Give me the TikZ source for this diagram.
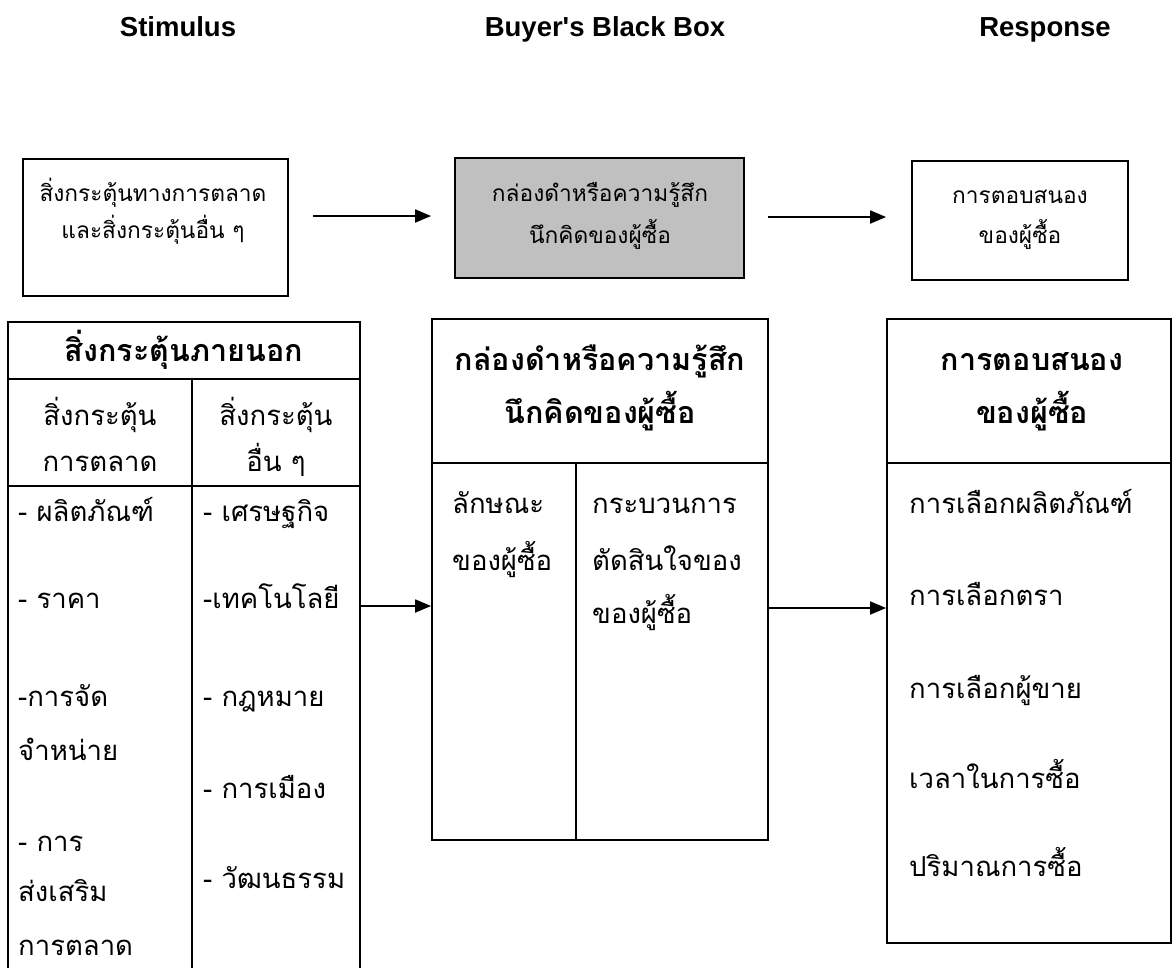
\documentclass[tikz,border=0pt]{standalone}
\usepackage{fontspec}
\setmainfont{Liberation Sans}
\newfontfamily\labfont{Liberation Sans}[Ligatures=TeXOff]
\newfontfamily\thai[Script=Thai]{Loma}
\usetikzlibrary{arrows.meta}
\begin{document}
\begin{tikzpicture}[x=1pt,y=-1pt,
  box/.style={draw, line width=1.8pt, inner sep=0pt},
  tline/.style={line width=1.8pt},
  arr/.style={line width=1.8pt, -{Triangle[length=16pt,width=13pt]}},
  hd/.style={font=\labfont\bfseries\fontsize{27.5}{33}\selectfont, anchor=base, inner sep=0pt},
  tb/.style={font=\thai\fontsize{22.7}{28}\selectfont, anchor=base, inner sep=0pt},
  tx/.style={font=\thai\fontsize{27.5}{32}\selectfont, anchor=base west, inner sep=0pt},
  txc/.style={font=\thai\fontsize{27.5}{32}\selectfont, anchor=base, inner sep=0pt},
  th/.style={font=\thai\bfseries\fontsize{30.5}{36}\selectfont, anchor=base, inner sep=0pt}
]
\useasboundingbox (0,0) rectangle (1172,967);

% top labels
\node[hd] (lS) at (178,36) {Stimulus};
\node[hd] (lB) at (605,36) {Buyer's Black Box};
\node[hd] (lR) at (1045,36) {Response};

% top boxes
\node[box, minimum width=265pt, minimum height=137pt] (b1) at (155.5,227.5) {};
\node[tb] (b1a) at (153,201) {สิ่งกระตุ้นทางการตลาด};
\node[tb] (b1b) at (153,238) {และสิ่งกระตุ้นอื่น ๆ};

\node[box, fill={rgb,255:red,192;green,192;blue,192}, minimum width=289pt, minimum height=120pt] (b2) at (599.5,218) {};
\node[tb] (b2a) at (600,201) {กล่องดำหรือความรู้สึก};
\node[tb] (b2b) at (600,243) {นึกคิดของผู้ซื้อ};

\node[box, minimum width=216pt, minimum height=119pt] (b3) at (1020,220.5) {};
\node[tb] (b3a) at (1020,203) {การตอบสนอง};
\node[tb] (b3b) at (1020,243) {ของผู้ซื้อ};

\draw[arr, shorten <=24pt, shorten >=23pt] (b1.east |- 0,216) -- (b2.west |- 0,216);
\draw[arr, shorten <=23pt, shorten >=25pt] (b2.east |- 0,217) -- (b3.west |- 0,217);

% left table
\node[minimum width=352pt, minimum height=646pt, inner sep=0pt] (lt) at (184,645) {};
\draw[tline] (8,968) -- (8,322) -- (360,322) -- (360,968);
\draw[tline] (8,379) -- (360,379);
\draw[tline] (8,486) -- (360,486);
\draw[tline] (192,379) -- (192,968);
\node[th] (lt0) at (184,361) {สิ่งกระตุ้นภายนอก};
\node[txc] (lt1) at (100,425) {สิ่งกระตุ้น};
\node[txc] (lt2) at (100,471) {การตลาด};
\node[txc] (lt3) at (276,425) {สิ่งกระตุ้น};
\node[txc] (lt4) at (276,471) {อื่น ๆ};
\node[tx] (la1) at (18,521) {- ผลิตภัณฑ์};
\node[tx] (la2) at (18,608) {- ราคา};
\node[tx] (la3) at (18,706) {-การจัด};
\node[tx] (la4) at (18,760) {จำหน่าย};
\node[tx] (la5) at (18,851) {- การ};
\node[tx] (la6) at (18,901) {ส่งเสริม};
\node[tx] (la7) at (18,955) {การตลาด};
\node[tx] (lb1) at (203,521) {- เศรษฐกิจ};
\node[tx] (lb2) at (203,608) {-เทคโนโลยี};
\node[tx] (lb3) at (203,706) {- กฎหมาย};
\node[tx] (lb4) at (203,798) {- การเมือง};
\node[tx] (lb5) at (203,888) {- วัฒนธรรม};

% middle table
\node[box, minimum width=336pt, minimum height=521pt] (mt) at (600,579.5) {};
\draw[tline] (mt.west |- 0,463) -- (mt.east |- 0,463);
\draw[tline] (576,463) -- (mt.south -| 576,0);
\node[th] (mt0) at (600,370) {กล่องดำหรือความรู้สึก};
\node[th] (mt1) at (600,423) {นึกคิดของผู้ซื้อ};
\node[tx] (ma1) at (452,513) {ลักษณะ};
\node[tx] (ma2) at (452,570) {ของผู้ซื้อ};
\node[tx] (mb1) at (592,513) {กระบวนการ};
\node[tx] (mb2) at (592,570) {ตัดสินใจของ};
\node[tx] (mb3) at (592,623) {ของผู้ซื้อ};

% right table
\node[box, minimum width=284pt, minimum height=624pt] (rt) at (1029,631) {};
\draw[tline] (rt.west |- 0,463) -- (rt.east |- 0,463);
\node[th] (rt0) at (1032,370) {การตอบสนอง};
\node[th] (rt1) at (1032,423) {ของผู้ซื้อ};
\node[tx] (ra1) at (909,513) {การเลือกผลิตภัณฑ์};
\node[tx] (ra2) at (909,605) {การเลือกตรา};
\node[tx] (ra3) at (909,698) {การเลือกผู้ขาย};
\node[tx] (ra4) at (909,788) {เวลาในการซื้อ};
\node[tx] (ra5) at (909,876) {ปริมาณการซื้อ};

% connectors between tables
\draw[arr] (lt.east |- 0,606) -- (mt.west |- 0,606);
\draw[arr] (mt.east |- 0,608) -- (rt.west |- 0,608);
\end{tikzpicture}
\end{document}
